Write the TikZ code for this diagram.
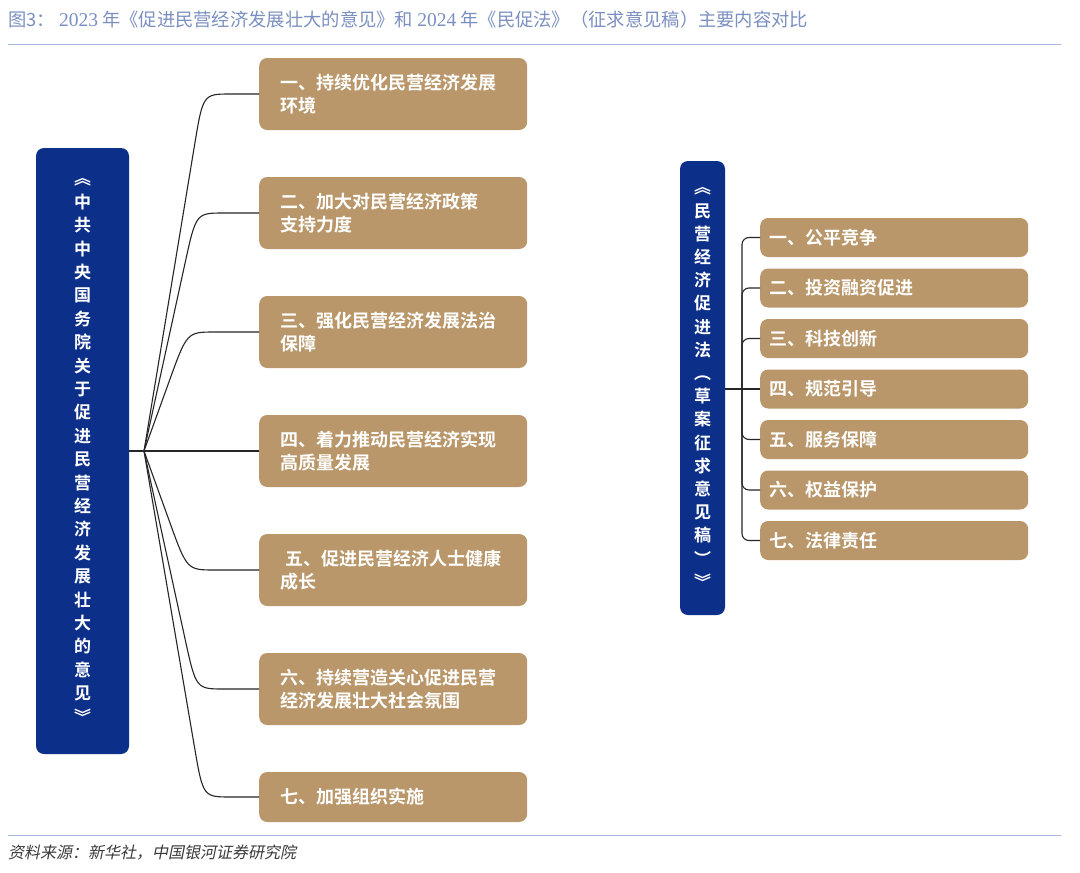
\documentclass[tikz,border=0pt]{standalone}
\usepackage{fontspec}
\newfontfamily\cjk{Noto Sans CJK SC}[BoldFont={Noto Sans CJK SC Bold}]
\newfontfamily\cjkit{Noto Sans CJK SC}[FakeSlant=0.2]
\newfontfamily\latinserif{Liberation Serif}
\usetikzlibrary{calc}
\definecolor{navyfill}{HTML}{0C2F8A}
\definecolor{tanfill}{HTML}{B9976A}
\definecolor{titleblue}{HTML}{7B90C0}
\definecolor{rulecol}{HTML}{A8B8DC}
\definecolor{srcgray}{HTML}{3A3A3A}
\begin{document}
\begin{tikzpicture}[x=1pt,y=-1pt,
  bluebox/.style={fill=navyfill, rounded corners=8pt, draw=none, text=white,
    font=\cjk\bfseries\fontsize{17}{23.4}\selectfont, align=center, inner sep=0pt},
  lbox/.style={fill=tanfill, rounded corners=8pt, draw=none, text=white, anchor=west,
    font=\cjk\bfseries\fontsize{18}{23.5}\selectfont, align=left,
    minimum width=268pt, text width=226pt, inner xsep=21pt, inner ysep=0pt, minimum height=72pt},
  rbox/.style={fill=tanfill, rounded corners=8pt, draw=none, text=white, anchor=west,
    font=\cjk\bfseries\fontsize{18}{20}\selectfont, align=left,
    minimum width=268pt, text width=250pt, inner xsep=9pt, inner ysep=0pt, minimum height=39pt},
  conn/.style={draw=black!85, line width=1.1pt},
  rulestyle/.style={draw=rulecol, line width=1pt}]
\useasboundingbox[fill=white] (0,0) rectangle (1080,873);

% title and rules
\node[anchor=west, inner sep=0pt, text=titleblue, font=\cjk\fontsize{18.3}{20}\selectfont] (title) at (8,20)
  {图3：\ {\latinserif\fontsize{19.5}{20}\selectfont 2023} 年《促进民营经济发展壮大的意见》和 {\latinserif\fontsize{19.5}{20}\selectfont 2024} 年《民促法》（征求意见稿）主要内容对比};
\coordinate (t1) at (8,44); \coordinate (t2) at (1061,44);
\draw[rulestyle] (t1) -- (t2);
\coordinate (b1) at (8,835); \coordinate (b2) at (1061,835);
\draw[rulestyle] (b1) -- (b2);
\node[anchor=west, inner sep=0pt, text=srcgray, font=\cjkit\fontsize{16}{20}\selectfont] (source) at (8,853)
  {资料来源：新华社，中国银河证券研究院};

% left blue box
\node[bluebox, minimum width=93pt, minimum height=606pt] (lb) at (82.5,451)
  {︽\\中\\共\\中\\央\\国\\务\\院\\关\\于\\促\\进\\民\\营\\经\\济\\发\\展\\壮\\大\\的\\意\\见\\︾};

% left brown boxes
\node[lbox] (l1) at (259,94) {一、持续优化民营经济发展\\环境};
\node[lbox] (l2) at (259,213) {二、加大对民营经济政策\\支持力度};
\node[lbox] (l3) at (259,332) {三、强化民营经济发展法治\\保障};
\node[lbox] (l4) at (259,451) {四、着力推动民营经济实现\\高质量发展};
\node[lbox] (l5) at (259,570) {\hspace*{5pt}五、促进民营经济人士健康\\成长};
\node[lbox] (l6) at (259,689) {六、持续营造关心促进民营\\经济发展壮大社会氛围};
\node[lbox, minimum height=50pt] (l7) at (259,797) {七、加强组织实施};

% left connectors
\coordinate (hub) at (144,451);
\coordinate (c1) at (203,94);
\coordinate (c2) at (196,213);
\coordinate (c3) at (187,332);
\coordinate (c5) at (187,570);
\coordinate (c6) at (196,689);
\coordinate (c7) at (203,797);
\draw[conn] (lb.east) -- (l4.west);
\foreach \i in {1,2,3,5,6,7}{
  \draw[conn] (hub) -- ($(c\i)!52pt!(hub)$) .. controls (c\i) .. ($(c\i)+(28,0)$) -- (l\i.west);
}

% right blue box
\node[bluebox, minimum width=45pt, minimum height=454pt, font=\cjk\bfseries\fontsize{17}{23.2}\selectfont] (rb) at (702.5,388)
  {︽\\民\\营\\经\\济\\促\\进\\法\\︵\\草\\案\\征\\求\\意\\见\\稿\\︶\\︾};

% right brown boxes
\node[rbox] (r1) at (760,237.5) {一、公平竞争};
\node[rbox] (r2) at (760,288) {二、投资融资促进};
\node[rbox] (r3) at (760,338.5) {三、科技创新};
\node[rbox] (r4) at (760,389) {四、规范引导};
\node[rbox] (r5) at (760,439.5) {五、服务保障};
\node[rbox] (r6) at (760,490) {六、权益保护};
\node[rbox] (r7) at (760,540.5) {七、法律责任};

% right connectors
\coordinate (hub2) at (742,389);
\draw[conn] (rb.east |- r4.west) -- (r4.west);
\foreach \i in {1,2,3,5,6,7}{
  \draw[conn, rounded corners=7pt] (hub2) |- (r\i.west);
}
\end{tikzpicture}
\end{document}
